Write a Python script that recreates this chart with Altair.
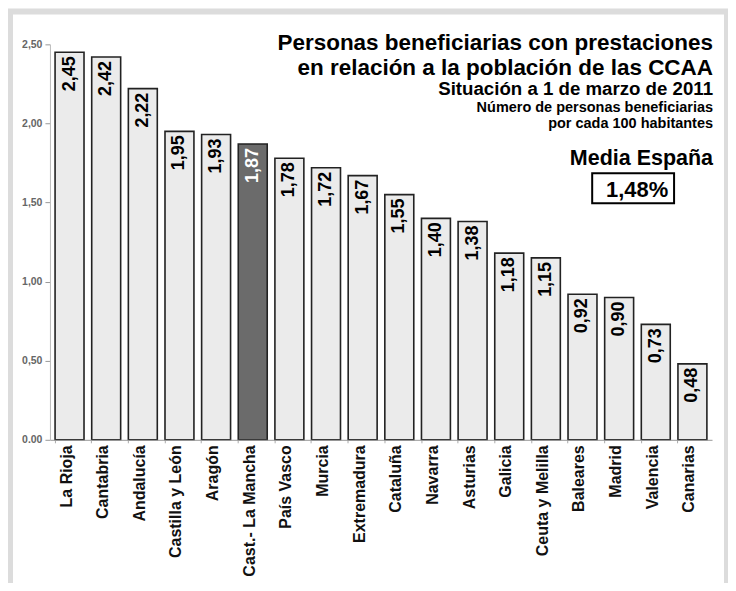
import altair as alt
import pandas as pd

regiones = ["La Rioja", "Cantabria", "Andalucía", "Castilla y León", "Aragón",
            "Cast.- La Mancha", "País Vasco", "Murcia", "Extremadura", "Cataluña",
            "Navarra", "Asturias", "Galicia", "Ceuta y Melilla", "Baleares",
            "Madrid", "Valencia", "Canarias"]
valores = [2.45, 2.42, 2.22, 1.95, 1.93, 1.87, 1.78, 1.72, 1.67, 1.55,
           1.40, 1.38, 1.18, 1.15, 0.92, 0.90, 0.73, 0.48]
destacada = "Cast.- La Mancha"
media = 1.48
yticks = [0, 0.5, 1.0, 1.5, 2.0, 2.5]
ytick_labels = ["0.00", "0,50", "1,00", "1,50", "2,00", "2,50"]
titulo = ["Personas beneficiarias con prestaciones",
          "en relación a la población de las CCAA"]
subtitulo = "Situación a 1 de marzo de 2011"
nota = ["Número de personas beneficiarias", "por cada 100 habitantes"]
media_titulo = "Media España"

FONT = "Liberation Sans"
df = pd.DataFrame({"region": regiones, "valor": valores})

W, H = 663, 396

label_expr = ("[" + ",".join(f"'{s}'" for s in ytick_labels) + "][indexof(["
              + ",".join(str(v) for v in yticks) + "], datum.value)]")

x = alt.X("region:N", sort=None, title=None,
          scale=alt.Scale(paddingInner=0.21, paddingOuter=0.14),
          axis=alt.Axis(labelAngle=-90, labelFont=FONT, labelFontSize=16,
                        labelFontWeight="bold", labelColor="#111",
                        labelPadding=2, tickSize=3, tickColor="#aaa",
                        labelOffset=-3,
                        bandPosition=0, domainColor="#999", labelLimit=300,
                        zindex=1))
y = alt.Y("valor:Q", title=None,
          scale=alt.Scale(domain=[0, 2.5], nice=False),
          axis=alt.Axis(values=yticks, labelExpr=label_expr, labelFont=FONT,
                        labelFontSize=10.5, labelFontWeight="bold",
                        labelColor="#666", tickSize=5, tickColor="#999",
                        labelPadding=3, domainColor="#bbb", grid=False,
                        zindex=1))

one = alt.Data(values=[{"k": 1}])

frame = alt.Chart(one).mark_rect(fill="white", stroke="#dcdcdc", strokeWidth=6).encode(
    x=alt.value(-40), x2=alt.value(678), y=alt.value(-33), y2=alt.value(640))

is_dest = alt.datum.region == destacada

bars = alt.Chart(df).mark_bar(stroke="#222", strokeWidth=1.6).encode(
    x=x, y=y,
    color=alt.condition(is_dest, alt.value("#6b6b6b"), alt.value("#ebebeb")))

labels = alt.Chart(df).transform_calculate(
    lab="replace(format(datum.valor, '.2f'), '.', ',')"
).mark_text(angle=270, align="right", baseline="middle", dx=-4,
            font=FONT, fontSize=18, fontWeight="bold").encode(
    x=alt.X("region:N", sort=None), y=alt.Y("valor:Q"),
    text="lab:N",
    color=alt.condition(is_dest, alt.value("white"), alt.value("black")))


def txt(s, xv, yv, size, align="right"):
    return alt.Chart(one).mark_text(align=align, baseline="alphabetic",
                                    font=FONT, fontSize=size, fontWeight="bold",
                                    color="black").encode(
        x=alt.value(xv), y=alt.value(yv), text=alt.value(s))


t1 = txt(titulo[0], 664, 6, 22.5)
t2 = txt(titulo[1], 664, 31, 22.5)
t3 = txt(subtitulo, 664, 51, 18.7)
t4 = txt(nota[0], 664, 68, 14.5)
t5 = txt(nota[1], 664, 84, 14.5)
t6 = txt(media_titulo, 664, 121, 21.5)

box = alt.Chart(one).mark_rect(fill="white", stroke="black", strokeWidth=2).encode(
    x=alt.value(543), x2=alt.value(625), y=alt.value(129), y2=alt.value(159))
media_txt = txt(f"{media:.2f}".replace(".", ",") + "%", 588, 153, 22, align="center")

chart = alt.layer(frame, bars, labels, t1, t2, t3, t4, t5, t6, box, media_txt).properties(
    width=W, height=H,
    autosize=alt.AutoSizeParams(type="none"),
    padding={"left": 42, "top": 36, "right": 16, "bottom": 143},
    background="white",
).configure_view(stroke=None)

chart.save("out.html", embed_options={"renderer": "svg", "actions": False})
